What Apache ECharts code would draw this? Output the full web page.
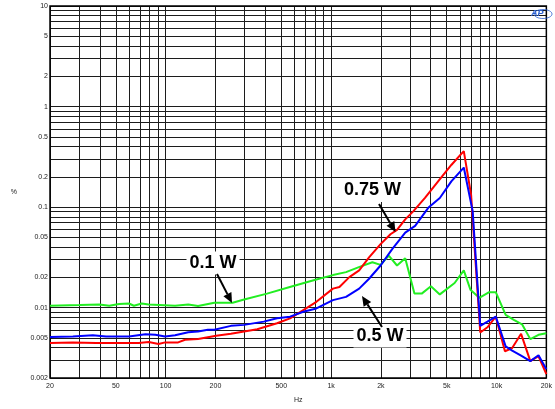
<!DOCTYPE html>
<html><head><meta charset="utf-8">
<script src="https://cdn.jsdelivr.net/npm/echarts@6/dist/echarts.min.js"></script>
<style>html,body{margin:0;padding:0;background:#fff}#c{width:555px;height:409px}</style>
</head><body><div id="c"></div>
<script>
// ---- data (Hz, %) ----
const freq075 = [20,27.5,38,52.3,68.8,79,90.6,99.3,119,131,157,202,248,298,358,471,565,679,815,1026,1123,1289,1478,1696,1991,2284,2503,2806,3146,3693,4434,5329,6339,7015,7970,8810,9892,11240,12430,14070,16000,17930,20000];
const thd075  = [0.00445,0.00452,0.00445,0.00445,0.00445,0.00455,0.00435,0.00452,0.00452,0.0048,0.00488,0.00526,0.0055,0.0058,0.00611,0.007,0.00784,0.00948,0.01144,0.01547,0.01607,0.02016,0.02347,0.0317,0.04286,0.05374,0.05938,0.07551,0.09134,0.1234,0.1802,0.2625,0.3602,0.133,0.00567,0.00639,0.00815,0.00369,0.00397,0.0055,0.00294,0.00329,0.00219];
const freq05 = [20,27.5,36.3,43.6,60,75.5,86.6,99.3,114,137,157,180,197,248,298,392,471,565,679,815,1026,1231,1478,1696,1991,2340,2806,3220,3865,4540,5329,6339,7172,7970,8810,9892,11350,12430,14070,16000,17930,20000];
const thd05  = [0.00512,0.00518,0.00533,0.00518,0.00518,0.00546,0.00538,0.00518,0.00533,0.00571,0.0058,0.00603,0.00603,0.0066,0.00675,0.00727,0.00784,0.00815,0.00912,0.00983,0.01189,0.01281,0.01547,0.0194,0.02628,0.03827,0.05587,0.06503,0.0984,0.1234,0.1802,0.2474,0.0913,0.0066,0.00727,0.00815,0.00413,0.00375,0.00333,0.00294,0.00337,0.00244];
const freq01 = [20,30.2,39.7,45.6,52.3,60,64.3,71.7,79,114,137,157,197,254,298,410,563,794,1026,1231,1472,1776,1991,2231,2503,2806,3189,3529,4011,4540,5578,6339,6950,7864,9023,9892,11350,12720,14260,16000,17930,20000];
const thd01  = [0.01045,0.01062,0.01076,0.01045,0.01086,0.01101,0.01045,0.01101,0.01076,0.01045,0.01076,0.01038,0.01119,0.01119,0.01206,0.01381,0.01607,0.01884,0.0211,0.02258,0.02529,0.02831,0.02664,0.03296,0.02628,0.031,0.01381,0.01381,0.01633,0.01356,0.0176,0.02347,0.01512,0.01253,0.01426,0.01426,0.00847,0.00756,0.00684,0.00487,0.00538,0.00558];

const xGridVals = [20,30,40,50,60,70,80,90,100,200,300,400,500,600,700,800,900,1000,2000,3000,4000,5000,6000,7000,8000,9000,10000,20000];
const xLabelVals = [20,50,100,200,500,1000,2000,5000,10000,20000];
const yGridVals = [0.002,0.003,0.004,0.005,0.006,0.007,0.008,0.009,0.01,0.02,0.03,0.04,0.05,0.06,0.07,0.08,0.09,0.1,0.2,0.3,0.4,0.5,0.6,0.7,0.8,0.9,1,2,3,4,5,6,7,8,9,10];
const yLabelVals = [0.002,0.005,0.01,0.02,0.05,0.1,0.2,0.5,1,2,5,10];

const pairs = (f, v) => f.map((x, i) => [x, v[i]]);
const FONT = '"Liberation Sans", Arial, sans-serif';

function arrow(x1, y1, x2, y2) {
  const dx = x2 - x1, dy = y2 - y1, L = Math.hypot(dx, dy);
  const ux = dx / L, uy = dy / L, hl = 10, hw = 4.5;
  const bx = x2 - ux * hl, by = y2 - uy * hl;
  return [
    {type: 'line', shape: {x1, y1, x2: bx, y2: by}, style: {stroke: '#000', lineWidth: 2}, z: 100},
    {type: 'polygon', shape: {points: [[x2, y2], [bx - uy * hw, by + ux * hw], [bx + uy * hw, by - ux * hw]]}, style: {fill: '#000'}, z: 100}
  ];
}
function label(text, cx, cy) {
  return {type: 'text', x: cx, y: cy, z: 100,
    style: {text, font: 'bold 18px ' + FONT, fill: '#000', align: 'center', verticalAlign: 'middle',
      backgroundColor: '#fff', padding: [3, 3, 2, 3]}};
}

const chart = echarts.init(document.getElementById('c'), null, {renderer: 'canvas'});
chart.setOption({
  animation: false,
  backgroundColor: '#fff',
  grid: {left: 50, top: 6, width: 503, height: 376, show: true, borderColor: '#000', borderWidth: 1.5, backgroundColor: 'transparent', z: 3},
  xAxis: {
    type: 'log', logBase: 10, min: 20, max: 20000,
    name: 'Hz', nameLocation: 'middle', nameGap: 19,
    nameTextStyle: {fontSize: 7, color: '#222', fontFamily: FONT},
    axisLine: {show: false},
    axisTick: {show: false, customValues: xGridVals},
    splitLine: {show: true, lineStyle: {color: '#1c1c1c', width: 1}},
    axisLabel: {customValues: xLabelVals, fontSize: 7, color: '#222', fontFamily: FONT, margin: 5,
      formatter: v => v >= 1000 ? (Math.round(v / 100) / 10) + 'k' : String(Math.round(v))}
  },
  yAxis: {
    type: 'log', logBase: 10, min: 0.002, max: 10,
    name: '%', nameLocation: 'middle', nameGap: 33, nameRotate: 0,
    nameTextStyle: {fontSize: 7, color: '#222', fontFamily: FONT},
    axisLine: {show: false},
    axisTick: {show: false, customValues: yGridVals},
    splitLine: {show: true, lineStyle: {color: '#1c1c1c', width: 1}},
    axisLabel: {customValues: yLabelVals, fontSize: 7, color: '#222', fontFamily: FONT, margin: 2,
      formatter: v => String(parseFloat(Number(v).toPrecision(3)))}
  },
  series: [
    {name: '0.1 W', type: 'line', data: pairs(freq01, thd01), showSymbol: false, lineStyle: {color: '#22ee22', width: 2}, z: 5},
    {name: '0.75 W', type: 'line', data: pairs(freq075, thd075), showSymbol: false, lineStyle: {color: '#ff0000', width: 2}, z: 6},
    {name: '0.5 W', type: 'line', data: pairs(freq05, thd05), showSymbol: false, lineStyle: {color: '#0000ff', width: 2}, z: 7}
  ],
  graphic: [
    label('0.75 W', 372.5, 190.5),
    label('0.1 W', 213, 263),
    label('0.5 W', 380, 336),
    ...arrow(379, 204, 395.5, 232),
    ...arrow(217, 274, 232, 303),
    ...arrow(382, 327, 362, 296),
    {type: 'text', x: 531, y: 9, z: 100, style: {text: 'AP', font: 'italic bold 9px ' + FONT, fill: '#2a5fd0'}},
    {type: 'ellipse', shape: {cx: 543, cy: 14, rx: 9, ry: 4.5}, style: {fill: 'none', stroke: '#2a5fd0', lineWidth: 0.8}, z: 100}
  ]
});
</script></body></html>
